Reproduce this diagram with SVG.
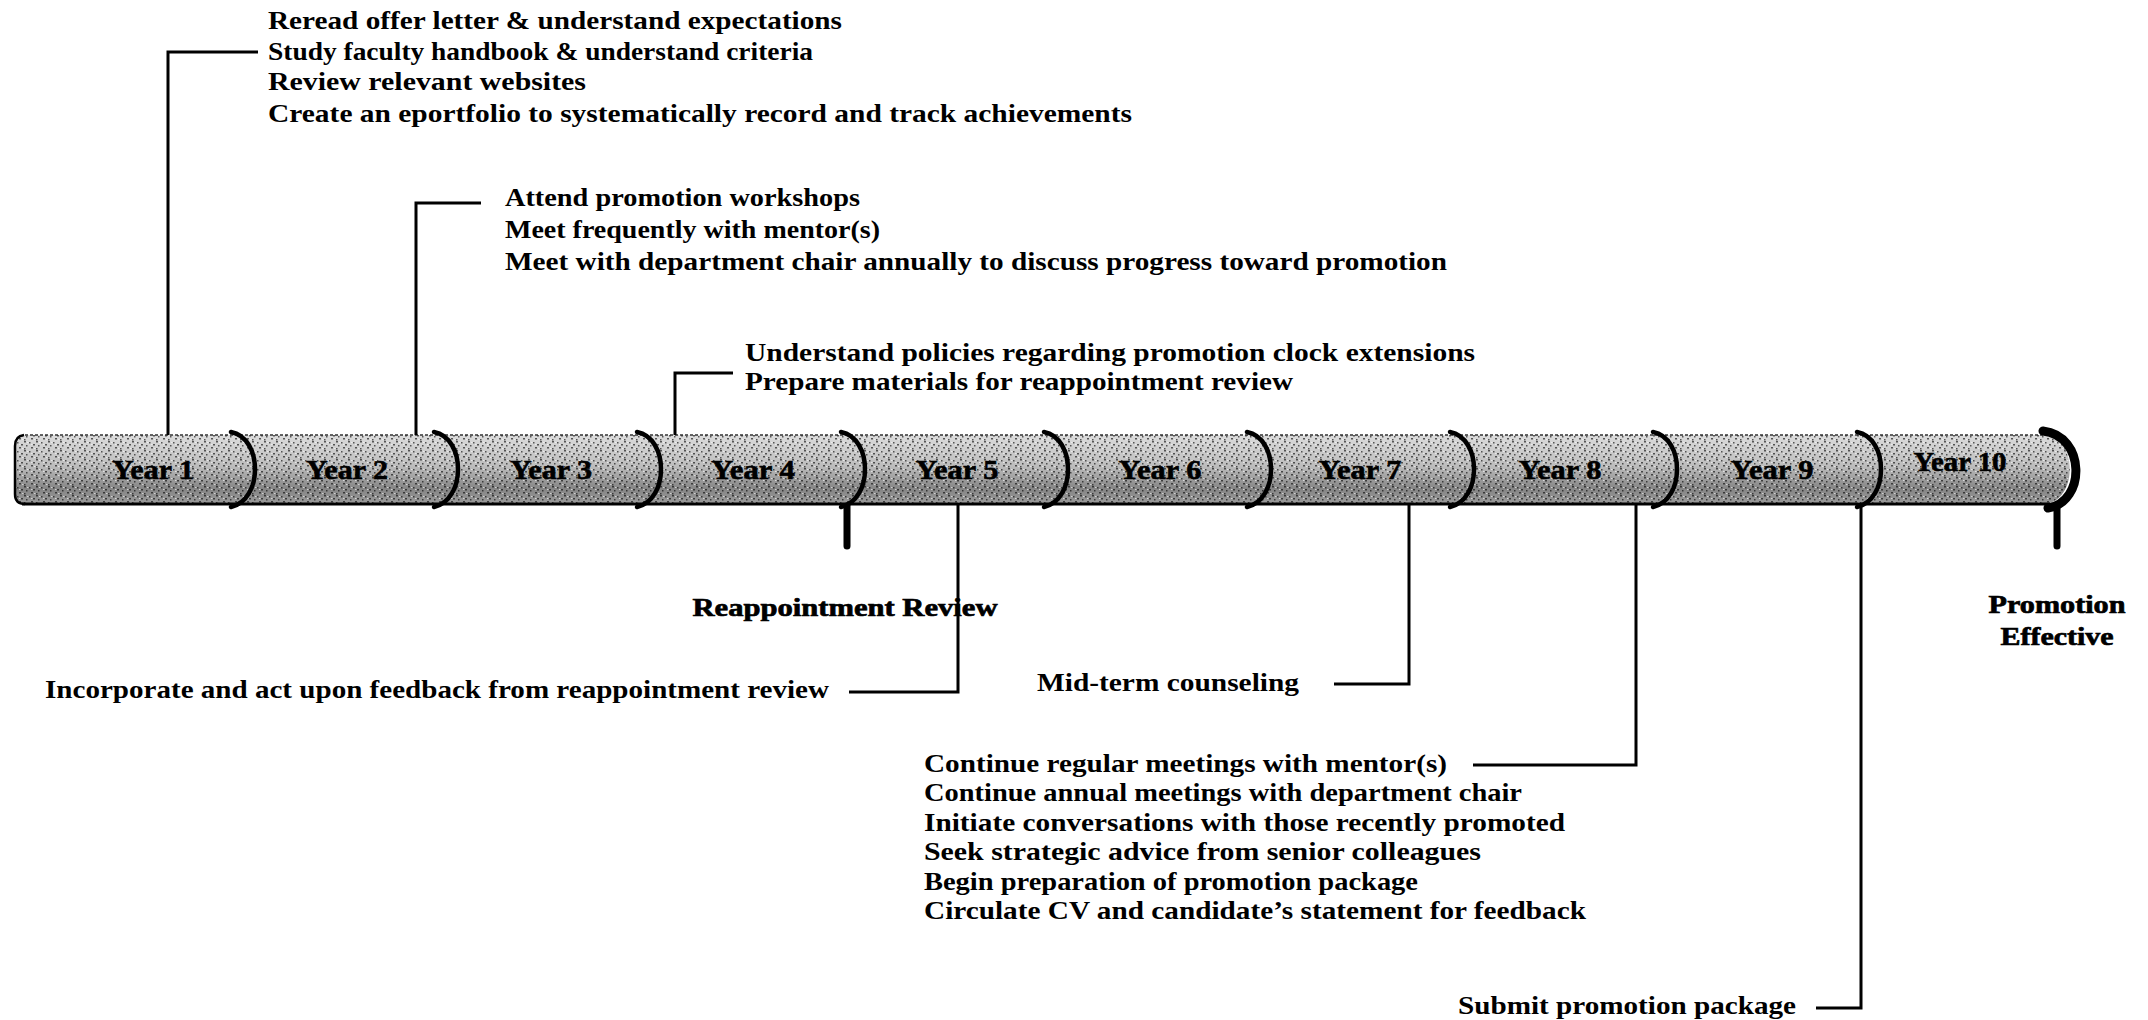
<svg xmlns="http://www.w3.org/2000/svg" width="2148" height="1020" viewBox="0 0 2148 1020">
<defs>
<style>
.t{font-family:"Liberation Serif","Times New Roman",serif;font-weight:bold;font-size:25px;fill:#000}
.yl{font-family:"Liberation Serif","Times New Roman",serif;font-weight:bold;font-size:28px;fill:#000;stroke:#000;stroke-width:0.6;text-anchor:middle}
.hv{font-family:"Liberation Serif","Times New Roman",serif;font-weight:bold;font-size:26px;fill:#000;stroke:#000;stroke-width:0.7;text-anchor:middle}
.sep{fill:none;stroke:#000;stroke-width:4.5;stroke-linecap:round}
.con{fill:none;stroke:#000;stroke-width:3}
.mark{fill:none;stroke:#000;stroke-width:7;stroke-linecap:round}
</style>
<linearGradient id="tube" x1="0" y1="0" x2="0" y2="1">
<stop offset="0" stop-color="#dcdcdc"/>
<stop offset="0.45" stop-color="#bdbdbd"/>
<stop offset="0.78" stop-color="#858585"/>
<stop offset="1" stop-color="#9c9c9c"/>
</linearGradient>
<pattern id="grain" width="12" height="9" patternUnits="userSpaceOnUse">
<rect x="0" y="0" width="2" height="1.5" fill="#000"/>
<rect x="5" y="1" width="1.5" height="1.5" fill="#000"/>
<rect x="9" y="3" width="2" height="1.5" fill="#000"/>
<rect x="2" y="4" width="1.5" height="1.5" fill="#000"/>
<rect x="7" y="6" width="2" height="1.5" fill="#000"/>
<rect x="0" y="7" width="1.5" height="1.5" fill="#000"/>
<rect x="3" y="1" width="1.5" height="1" fill="#fff"/>
<rect x="7" y="3" width="1.5" height="1" fill="#fff"/>
<rect x="10" y="7" width="1.5" height="1" fill="#fff"/>
</pattern>
</defs>
<rect width="2148" height="1020" fill="#fff"/>

<g id="timeline-bar">
<path d="M25,435 H2045 C2078,438 2078,500 2045,504 H25 Q15,504 15,494 V445 Q15,435 25,435 Z" fill="url(#tube)"/>
<path d="M25,435 H2045 C2078,438 2078,500 2045,504 H25 Q15,504 15,494 V445 Q15,435 25,435 Z" fill="url(#grain)" opacity="0.6"/>
<path d="M25,435 H2045" fill="none" stroke="#333" stroke-width="1.5" stroke-dasharray="3,2"/>
<path d="M22,504 H2050" fill="none" stroke="#000" stroke-width="3"/>
<path d="M24,435 Q15,436 15,446 V494 Q15,504 25,504" fill="none" stroke="#000" stroke-width="2.5"/>
<path d="M2043,431 C2086,436 2086,502 2048,508" fill="none" stroke="#000" stroke-width="9" stroke-linecap="round"/>
</g>

<g id="year1"><path class="sep" d="M231,432 C263,438 263,500 231,507"/><text class="yl" x="153" y="479" textLength="82" lengthAdjust="spacingAndGlyphs">Year 1</text></g>
<g id="year2"><path class="sep" d="M434,432 C466,438 466,500 434,507"/><text class="yl" x="347" y="479" textLength="82" lengthAdjust="spacingAndGlyphs">Year 2</text></g>
<g id="year3"><path class="sep" d="M637,432 C669,438 669,500 637,507"/><text class="yl" x="551" y="479" textLength="82" lengthAdjust="spacingAndGlyphs">Year 3</text></g>
<g id="year4"><path class="sep" d="M841,432 C873,438 873,500 841,507"/><text class="yl" x="753" y="479" textLength="84" lengthAdjust="spacingAndGlyphs">Year 4</text></g>
<g id="year5"><path class="sep" d="M1044,432 C1076,438 1076,500 1044,507"/><text class="yl" x="957" y="479" textLength="83" lengthAdjust="spacingAndGlyphs">Year 5</text></g>
<g id="year6"><path class="sep" d="M1247,432 C1279,438 1279,500 1247,507"/><text class="yl" x="1160" y="479" textLength="83" lengthAdjust="spacingAndGlyphs">Year 6</text></g>
<g id="year7"><path class="sep" d="M1450,432 C1482,438 1482,500 1450,507"/><text class="yl" x="1360" y="479" textLength="83" lengthAdjust="spacingAndGlyphs">Year 7</text></g>
<g id="year8"><path class="sep" d="M1653,432 C1685,438 1685,500 1653,507"/><text class="yl" x="1560" y="479" textLength="83" lengthAdjust="spacingAndGlyphs">Year 8</text></g>
<g id="year9"><path class="sep" d="M1857,432 C1889,438 1889,500 1857,507"/><text class="yl" x="1772" y="479" textLength="83" lengthAdjust="spacingAndGlyphs">Year 9</text></g>
<g id="year10"><text class="yl" x="1960" y="471" textLength="93" lengthAdjust="spacingAndGlyphs">Year 10</text></g>

<g id="connectors">
<path class="con" d="M258,52 H168 V435"/>
<path class="con" d="M481,203 H416 V435"/>
<path class="con" d="M733,373 H675 V435"/>
<path class="mark" d="M847,506 V546"/>
<path class="con" d="M958,505 V692 H849"/>
<path class="con" d="M1409,505 V684 H1334"/>
<path class="con" d="M1636,505 V765 H1473"/>
<path class="con" d="M1861,505 V1008 H1816"/>
<path class="mark" d="M2057,506 V546"/>
</g>

<g id="year1-tasks">
<text class="t" x="268" y="29" textLength="574" lengthAdjust="spacingAndGlyphs">Reread offer letter &amp; understand expectations</text>
<text class="t" x="268" y="60" textLength="545" lengthAdjust="spacingAndGlyphs">Study faculty handbook &amp; understand criteria</text>
<text class="t" x="268" y="90" textLength="318" lengthAdjust="spacingAndGlyphs">Review relevant websites</text>
<text class="t" x="268" y="122" textLength="864" lengthAdjust="spacingAndGlyphs">Create an eportfolio to systematically record and track achievements</text>
</g>

<g id="year2-tasks">
<text class="t" x="505" y="206" textLength="355" lengthAdjust="spacingAndGlyphs">Attend promotion workshops</text>
<text class="t" x="505" y="238" textLength="375" lengthAdjust="spacingAndGlyphs">Meet frequently with mentor(s)</text>
<text class="t" x="505" y="270" textLength="942" lengthAdjust="spacingAndGlyphs">Meet with department chair annually to discuss progress toward promotion</text>
</g>

<g id="year4-tasks">
<text class="t" x="745" y="361" textLength="730" lengthAdjust="spacingAndGlyphs">Understand policies regarding promotion clock extensions</text>
<text class="t" x="745" y="390" textLength="548" lengthAdjust="spacingAndGlyphs">Prepare materials for reappointment review</text>
</g>

<g id="reappointment-review">
<text class="hv" x="845" y="616" textLength="305" lengthAdjust="spacingAndGlyphs">Reappointment Review</text>
</g>

<g id="year5-tasks">
<text class="t" x="45" y="698" textLength="784" lengthAdjust="spacingAndGlyphs">Incorporate and act upon feedback from reappointment review</text>
</g>

<g id="year7-tasks">
<text class="t" x="1037" y="691" textLength="262" lengthAdjust="spacingAndGlyphs">Mid-term counseling</text>
</g>

<g id="year8-tasks">
<text class="t" x="924" y="772" textLength="523" lengthAdjust="spacingAndGlyphs">Continue regular meetings with mentor(s)</text>
<text class="t" x="924" y="801" textLength="598" lengthAdjust="spacingAndGlyphs">Continue annual meetings with department chair</text>
<text class="t" x="924" y="831" textLength="641" lengthAdjust="spacingAndGlyphs">Initiate conversations with those recently promoted</text>
<text class="t" x="924" y="860" textLength="557" lengthAdjust="spacingAndGlyphs">Seek strategic advice from senior colleagues</text>
<text class="t" x="924" y="890" textLength="494" lengthAdjust="spacingAndGlyphs">Begin preparation of promotion package</text>
<text class="t" x="924" y="919" textLength="662" lengthAdjust="spacingAndGlyphs">Circulate CV and candidate’s statement for feedback</text>
</g>

<g id="year9-tasks">
<text class="t" x="1458" y="1014" textLength="338" lengthAdjust="spacingAndGlyphs">Submit promotion package</text>
</g>

<g id="promotion-effective">
<text class="hv" x="2057" y="613" textLength="137" lengthAdjust="spacingAndGlyphs">Promotion</text>
<text class="hv" x="2057" y="645" textLength="113" lengthAdjust="spacingAndGlyphs">Effective</text>
</g>
</svg>
